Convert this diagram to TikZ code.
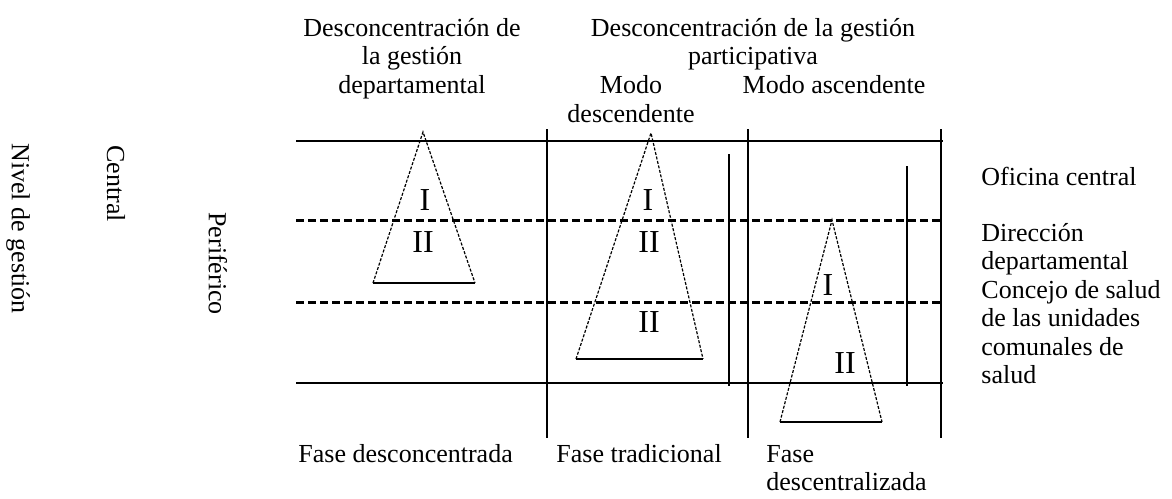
\documentclass[tikz,border=0pt]{standalone}
\usepackage{fontspec}
\setmainfont{Liberation Serif}
\tikzset{
  lbl/.style={inner sep=0pt, font=\fontsize{13}{14.25}\selectfont},
  rom/.style={inner sep=0pt, font=\fontsize{16}{16}\selectfont},
  solidline/.style={line width=1pt},
  levelline/.style={line width=1.5pt, dash pattern=on 4pt off 2pt},
  sideline/.style={line width=0.6pt, dash pattern=on 1.5pt off 0.8pt},
}
\begin{document}
\begin{tikzpicture}[x=0.5pt,y=-0.5pt]
\useasboundingbox (0,0) rectangle (1172,498);
% levels
\draw[solidline] (296,141) -- (943,141);
\draw[levelline] (296,220) -- (943,220);
\draw[levelline] (296,302) -- (943,302);
\draw[solidline] (296,383) -- (943,383);
\foreach \x in {547,748,941}
  \draw[solidline] (\x,129) -- (\x,438);
\draw[solidline] (729,154) -- (729,386);
\draw[solidline] (907,166) -- (907,386);
% triangles
\draw[sideline] (373,283) -- (423,132) -- (475,283);
\draw[solidline] (373,283) -- (475,283);
\draw[sideline] (576,359) -- (651,133) -- (703,359);
\draw[solidline] (576,359) -- (703,359);
\draw[sideline] (780,422) -- (832,220) -- (882,422);
\draw[solidline] (780,422) -- (882,422);
\node[rom] (t1a) at (425,200) {I};
\node[rom] (t1b) at (423,242) {II};
\node[rom] (t2a) at (648,200) {I};
\node[rom] (t2b) at (649,242) {II};
\node[rom] (t2c) at (649,322) {II};
\node[rom] (t3a) at (828,285) {I};
\node[rom] (t3b) at (845,363) {II};
% top labels (base = last line)
\node[lbl, align=center, anchor=base] (fdep) at (412,93) {Desconcentración de\\la gestión\\departamental};
\node[lbl, align=center, anchor=base] (fpart) at (753,64.5) {Desconcentración de la gestión\\participativa};
\node[lbl, align=center, anchor=base] (mdesc) at (631,122) {Modo\\descendente};
\node[lbl, anchor=base] (masc) at (834,93.5) {Modo ascendente};
% left labels
\node[lbl, rotate=-90, anchor=west] (nivel) at (18,143) {Nivel de gestión};
\node[lbl, rotate=-90, anchor=west] (centr) at (116,145) {Central};
\node[lbl, rotate=-90, anchor=west] (perif) at (218,212) {Periférico};
% right labels
\node[lbl, anchor=base west] (ofic) at (981,185) {Oficina central};
\node[lbl, align=left, anchor=base west] (direc) at (981,383.5) {Dirección\\departamental\\Concejo de salud\\de las unidades\\comunales de\\salud};
% bottom labels
\node[lbl, anchor=base west] (fdes) at (298,462) {Fase desconcentrada};
\node[lbl, anchor=base west] (ftra) at (556,462) {Fase tradicional};
\node[lbl, align=left, anchor=base west] (fdsc) at (766,490.5) {Fase\\descentralizada};
\end{tikzpicture}
\end{document}
